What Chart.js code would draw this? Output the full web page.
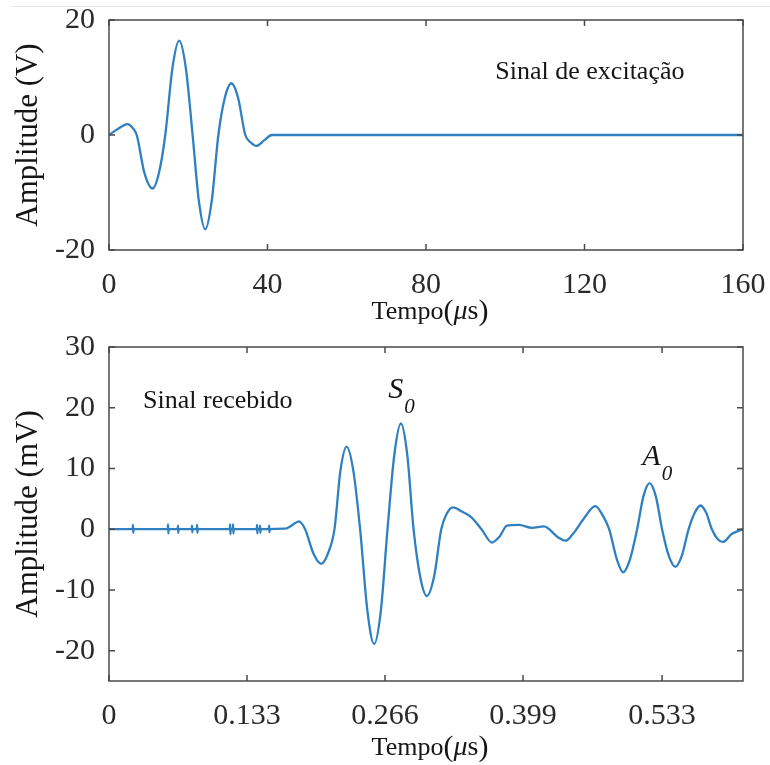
<!DOCTYPE html>
<html>
<head>
<meta charset="utf-8">
<script src="https://cdn.jsdelivr.net/npm/chart.js@4.4.0/dist/chart.umd.min.js"></script>
<style>
  body { margin: 0; background: #fff; width: 770px; height: 765px; overflow: hidden; position: relative; }
  .rule { position: absolute; left: 10px; right: 0; top: 6px; height: 1px; background: #e6e6e6; }
  .box { position: absolute; left: 0; width: 770px; }
  #b1 { top: 0; height: 330px; }
  #b2 { top: 330px; height: 435px; }
</style>
</head>
<body>
<div class="rule"></div>
<div class="box" id="b1"><canvas id="c1"></canvas></div>
<div class="box" id="b2"><canvas id="c2"></canvas></div>
<script>
// excitation signal (V) vs time (us)
const exciteTime = [0, 2.3, 4.7, 6.0, 7.0, 8.9, 11.0, 12.6, 14.2, 16.0, 17.7, 19.4, 21.1, 22.7, 24.3, 25.9, 27.6, 29.2, 30.9, 32.6, 34.4, 35.8, 37.2, 39.2, 41.1, 160];
const exciteAmp  = [0, 1.1, 1.9, 1.2, 0, -6.5, -9.3, -6.6, 0, 11.6, 16.4, 11.6, 0, -11.6, -16.4, -11.6, 0, 6.4, 9.0, 6.4, 0, -1.3, -1.9, -0.9, 0, 0];

// received signal (mV)
const recvTime = [0, 0.0228, 0.0231, 0.0234, 0.0237, 0.0566, 0.0569, 0.0572, 0.0575, 0.0662, 0.0665, 0.0668, 0.0671,
  0.0797, 0.0800, 0.0803, 0.0806, 0.0846, 0.0849, 0.0852, 0.0855, 0.1164, 0.1167, 0.1170, 0.1173,
  0.1193, 0.1196, 0.1199, 0.1202, 0.1424, 0.1427, 0.1430, 0.1433, 0.1453, 0.1456, 0.1459, 0.1462,
  0.1540, 0.1543, 0.1546, 0.1549, 0.170, 0.176, 0.183, 0.189, 0.197, 0.2045, 0.211, 0.2173,
  0.223, 0.229, 0.2355, 0.242, 0.249, 0.2555, 0.262, 0.2684, 0.275, 0.2813, 0.2874, 0.2935,
  0.300, 0.3063, 0.3133, 0.3202, 0.3253, 0.3315, 0.340, 0.349, 0.359, 0.369, 0.3765, 0.3835,
  0.395, 0.4076, 0.419, 0.4333, 0.440, 0.447, 0.457, 0.4687, 0.476, 0.482, 0.4895, 0.4955,
  0.502, 0.509, 0.515, 0.521, 0.527, 0.533, 0.5395, 0.5458, 0.552, 0.5586, 0.5645, 0.5700,
  0.5755, 0.581, 0.5865, 0.5917, 0.600, 0.611];
const recvAmp = [0, 0, 0.7, -0.6, 0, 0, 0.8, -0.7, 0, 0, 0.6, -0.6, 0,
  0, 0.6, -0.5, 0, 0, 0.7, -0.6, 0, 0, 0.8, -0.8, 0,
  0, 0.8, -0.7, 0, 0, 0.7, -0.7, 0, 0, 0.6, -0.6, 0,
  0, 0.6, -0.5, 0, 0.1, 0.6, 1.3, 0, -4.0, -5.7, -4.0, 0,
  9.6, 13.6, 9.6, 0, -13.4, -18.9, -13.4, 0, 12.3, 17.4, 12.3, 0,
  -7.9, -11.0, -7.8, 0, 2.5, 3.6, 2.9, 2.0, 0, -2.2, -1.2, 0.6,
  0.7, 0.2, 0.45, -1.4, -1.9, -0.8, 1.6, 3.8, 2.2, 0, -5.0, -7.1,
  -5.0, 0, 5.4, 7.6, 5.4, 0, -4.4, -6.2, -4.4, 0, 2.7, 3.9,
  2.7, 0, -1.6, -2.1, -0.8, 0];

const topXTicks = [0, 40, 80, 120, 160];
const topYTicks = [-20, 0, 20];
const botXTicks = [0, 0.133, 0.266, 0.399, 0.533];
const botYTicks = [-20, -10, 0, 10, 20, 30];

const SERIF = '"Liberation Serif", "Times New Roman", serif';
const LINE = '#3080c0';

// MATLAB-like box with inward ticks, axis titles and text notes
const matlabBox = {
  id: 'matlabBox',
  afterDraw(chart, args, o) {
    const { ctx, chartArea: a, scales: { x, y } } = chart;
    ctx.save();
    ctx.strokeStyle = '#4a4a4a';
    ctx.lineWidth = 1.5;
    ctx.strokeRect(a.left, a.top, a.right - a.left, a.bottom - a.top);
    const tl = 6;
    ctx.beginPath();
    x.ticks.forEach(t => {
      const px = x.getPixelForValue(t.value);
      ctx.moveTo(px, a.bottom); ctx.lineTo(px, a.bottom - tl);
      ctx.moveTo(px, a.top); ctx.lineTo(px, a.top + tl);
    });
    y.ticks.forEach(t => {
      const py = y.getPixelForValue(t.value);
      ctx.moveTo(a.left, py); ctx.lineTo(a.left + tl, py);
      ctx.moveTo(a.right, py); ctx.lineTo(a.right - tl, py);
    });
    ctx.stroke();

    ctx.fillStyle = '#151515';
    // y title
    ctx.save();
    ctx.translate(29, (a.top + a.bottom) / 2);
    ctx.rotate(-Math.PI / 2);
    ctx.font = '31px ' + SERIF;
    ctx.textAlign = 'center';
    ctx.textBaseline = 'middle';
    ctx.fillText(o.yTitle, 0, 0);
    ctx.restore();

    // x title: Tempo (μs) with italic mu
    const parts = [
      { t: 'Tempo', f: '26px ' + SERIF },
      { t: '(', f: '30px ' + SERIF },
      { t: 'μ', f: 'italic 28px ' + SERIF },
      { t: 's', f: '28px ' + SERIF },
      { t: ')', f: '30px ' + SERIF }
    ];
    let total = 0;
    parts.forEach(p => { ctx.font = p.f; p.w = ctx.measureText(p.t).width; total += p.w; });
    let cx = (a.left + a.right) / 2 + 4 - total / 2;
    const cy = a.bottom + o.xTitleOffset;
    ctx.textAlign = 'left';
    ctx.textBaseline = 'middle';
    parts.forEach(p => { ctx.font = p.f; ctx.fillText(p.t, cx, cy); cx += p.w; });

    // notes in data coordinates
    (o.notes || []).forEach(n => {
      const px = x.getPixelForValue(n.x), py = y.getPixelForValue(n.y);
      ctx.font = n.font;
      ctx.fillText(n.text, px, py);
      if (n.sub) {
        const w = ctx.measureText(n.text).width;
        ctx.font = 'italic 21px ' + SERIF;
        ctx.fillText(n.sub, px + w + 1, py + 17);
      }
    });
    ctx.restore();
  }
};

function makeChart(id, xs, ys, cfg) {
  return new Chart(document.getElementById(id), {
    type: 'line',
    data: { datasets: [{ data: xs.map((t, i) => ({ x: t, y: ys[i] })), borderColor: LINE, borderWidth: 2.3, pointRadius: 0, cubicInterpolationMode: 'monotone', fill: false }] },
    options: {
      responsive: true, maintainAspectRatio: false, animation: false,
      layout: { padding: { top: cfg.padTop, right: 27, left: 0, bottom: 0 } },
      plugins: { legend: { display: false }, tooltip: { enabled: false }, matlabBox: cfg.box },
      scales: {
        x: {
          type: 'linear', min: cfg.xMin, max: cfg.xMax,
          grid: { display: false, drawTicks: false, tickLength: 0 }, border: { display: false },
          afterBuildTicks: s => { s.ticks = cfg.xTicks.map(v => ({ value: v })); },
          afterFit: s => { s.height = cfg.xHeight; s.paddingLeft = 0; s.paddingRight = 0; },
          ticks: { font: { family: SERIF, size: 30, lineHeight: 1 }, color: '#2a2a2a', padding: 20, maxRotation: 0, callback: v => String(v) }
        },
        y: {
          min: cfg.yMin, max: cfg.yMax,
          grid: { display: false, drawTicks: false, tickLength: 0 }, border: { display: false },
          afterBuildTicks: s => { s.ticks = cfg.yTicks.map(v => ({ value: v })); },
          afterFit: s => { s.width = 109; s.paddingTop = 0; s.paddingBottom = 0; },
          ticks: { font: { family: SERIF, size: 30, lineHeight: 1 }, color: '#2a2a2a', padding: 14, callback: v => String(v) }
        }
      }
    },
    plugins: [matlabBox]
  });
}

makeChart('c1', exciteTime, exciteAmp, {
  padTop: 20, xHeight: 80, xMin: 0, xMax: 160, yMin: -20, yMax: 20,
  xTicks: topXTicks, yTicks: topYTicks,
  box: { yTitle: 'Amplitude (V)', xTitleOffset: 62,
    notes: [{ text: 'Sinal de excitação', x: 97.5, y: 11, font: '26px ' + SERIF }] }
});

makeChart('c2', recvTime, recvAmp, {
  padTop: 17, xHeight: 84, xMin: 0, xMax: 0.611, yMin: -25, yMax: 30,
  xTicks: botXTicks, yTicks: botYTicks,
  box: { yTitle: 'Amplitude (mV)', xTitleOffset: 67,
    notes: [
      { text: 'Sinal recebido', x: 0.0328, y: 21, font: '26px ' + SERIF },
      { text: 'S', sub: '0', x: 0.269, y: 22.9, font: 'italic 30px ' + SERIF },
      { text: 'A', sub: '0', x: 0.514, y: 11.8, font: 'italic 30px ' + SERIF }
    ] }
});
</script>
</body>
</html>
